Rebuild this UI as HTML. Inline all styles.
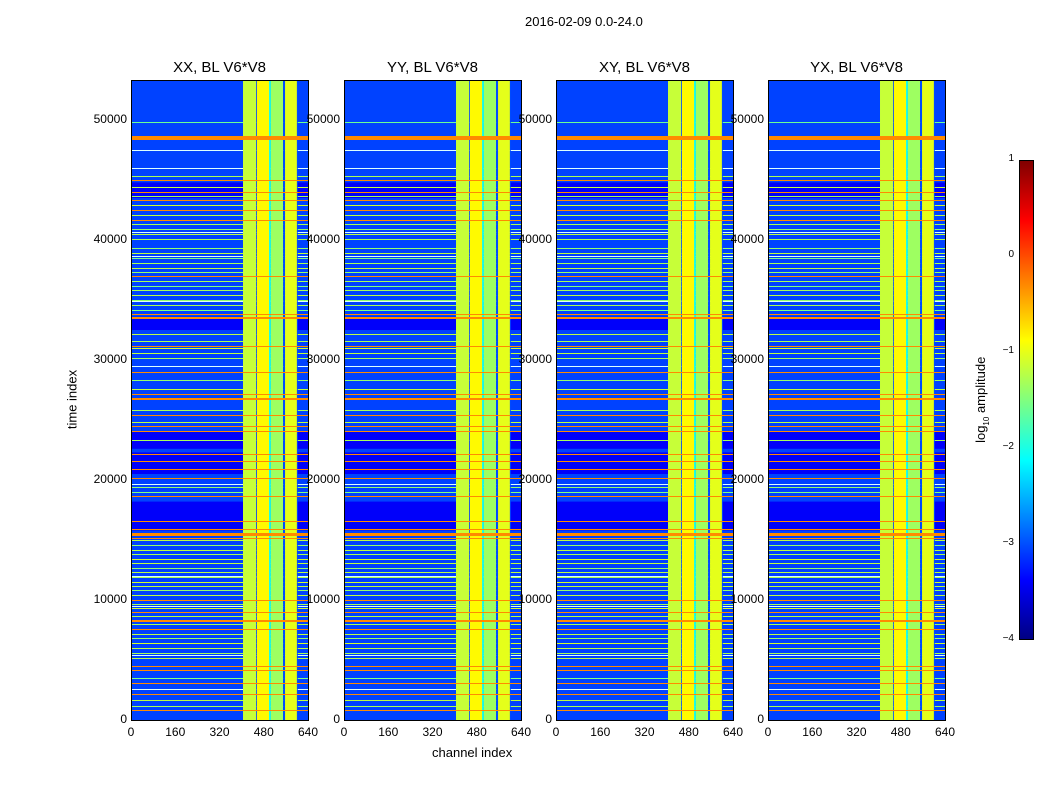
<!DOCTYPE html>
<html><head><meta charset="utf-8">
<style>
body{margin:0;background:#fff;width:1050px;height:800px;overflow:hidden;font-family:"Liberation Sans",sans-serif;}
#root{position:relative;width:1050px;height:800px;}
.t{position:absolute;white-space:nowrap;color:#000;}
canvas{position:absolute;image-rendering:pixelated;}
.frame{position:absolute;border:1px solid #000;box-sizing:border-box;}
</style></head>
<body><div id="root">
<div class="t" style="left:525px;top:14px;font-size:13px;">2016-02-09 0.0-24.0</div>
<div class="t" style="left:40px;top:392px;font-size:13px;transform:rotate(-90deg);width:64px;text-align:center;">time index</div>
<div class="t" style="left:432px;top:745px;font-size:13px;">channel index</div>
<div class="t" style="left:932px;top:391px;font-size:13px;transform:rotate(-90deg);width:100px;text-align:center;">log<sub style="font-size:8px">10</sub> amplitude</div>
</div>
<script>
const panelTitles=["XX, BL V6*V8","YY, BL V6*V8","XY, BL V6*V8","YX, BL V6*V8"];
const panelLefts=[131,344,556,768];
const xTicks=[0,160,320,480,640];
const yTicks=[0,10000,20000,30000,40000,50000];
const cbTicks=[1,0,-1,-2,-3,-4];
const background=-3.05;
const bandStart=[405,455,506,557];
const bandEnd=[452,499,550,600];
const bandValue=[-1.15,-0.85,-1.35,-1.0];
const darkT0=[15800,20500,22600,32500,43500];
const darkT1=[18200,22300,24000,33600,44800];
const orangeT=[800,2200,3100,4200,4500,7600,8300,9000,10000,15200,15600,15900,16600,18700,20200,20900,21600,22200,24100,24500,25400,26800,27200,29000,31200,33600,33800,37000,41700,42500,43300,44000,45000,48500,48700];
const orangeW=[1,1,1,1,1,1,2,1,1,1,3,1,1,1,1,1,1,1,1,1,1,2,1,1,1,2,1,1,1,1,1,1,1,2,2];
const greenT=[1200,1700,3500,5200,5600,6000,6400,6800,7200,8000,8700,9300,9700,10400,10800,11200,11500,11900,12300,12700,13100,13400,13800,14200,14600,15000,19000,19400,23300,24800,25800,27600,28300,30200,30600,31000,31600,32200,34200,34600,35000,35400,35800,36200,36600,37300,37700,38100,38500,38900,39300,40100,40500,40900,41300,42100,42900,43700,44400,45300,49800];
const greenV=[-1.3,-1.2,-1.5,-1.2,-1.3,-1.2,-1.1,-1.4,-1.2,-1.3,-1.2,-1.1,-1.3,-1.2,-1.4,-1.2,-1.1,-1.3,-1.2,-1.4,-1.2,-1.1,-1.3,-1.2,-1.4,-1.2,-1.5,-1.4,-1.3,-1.2,-1.3,-1.2,-1.4,-1.3,-1.2,-1.1,-1.3,-1.2,-1.5,-1.3,-1.4,-1.2,-1.3,-1.5,-1.3,-1.4,-1.2,-1.3,-1.5,-1.2,-1.4,-1.3,-1.2,-1.4,-1.3,-1.2,-1.1,-1.3,-1.2,-1.3,-1.6];
const whiteT=[2600,5400,9500,12000,19700,29500,34900,38700,40700,46000,47500];

const root=document.getElementById('root');
const PT=80,PH=640,PW=177,TMAX=53333,CMAX=640;
function jet(v){
  let x=(v+4)/5; x=Math.max(0,Math.min(1,x));
  const f=(a)=>Math.max(0,Math.min(1,1.5-Math.abs(4*x-a)));
  return `rgb(${Math.round(f(3)*255)},${Math.round(f(2)*255)},${Math.round(f(1)*255)})`;
}
const xs=c=>c/CMAX*PW, ys=t=>PH-t/TMAX*PH;
function label(txt,l,t,size,name,align){const d=document.createElement('div');d.className='t';d.textContent=txt;d.style.fontSize=size+'px';d.style.top=t+'px';
 if(align==='right'){d.style.right=(1050-l)+'px';}else if(align==='center'){d.style.left=(l-50)+'px';d.style.width='100px';d.style.textAlign='center';}else d.style.left=l+'px';
 
 
 root.appendChild(d);return d;}
panelLefts.forEach((L,pi)=>{
  const cv=document.createElement('canvas');cv.width=PW;cv.height=PH;cv.style.left=L+'px';cv.style.top=PT+'px';
  
  
  root.appendChild(cv);
  const g=cv.getContext('2d');
  g.fillStyle=jet(background);g.fillRect(0,0,PW,PH);
  darkT0.forEach((t0,i)=>{g.fillStyle=jet(-3.4);g.fillRect(0,ys(darkT1[i]),PW,ys(t0)-ys(darkT1[i]));});
  greenT.forEach((t,i)=>{g.fillStyle=jet(greenV[i]);g.fillRect(0,Math.round(ys(t)),PW,1);});
  whiteT.forEach(t=>{g.fillStyle='#dff';g.fillRect(0,Math.round(ys(t)),PW,1);});
  bandStart.forEach((c0,i)=>{g.fillStyle=jet(bandValue[i]);g.fillRect(xs(c0),0,xs(bandEnd[i])-xs(c0),PH);
    g.fillStyle=jet(i==1?-2.0:-3.0);g.fillRect(xs(bandEnd[i]),0,xs(i<3?bandStart[i+1]:bandEnd[i]+3)-xs(bandEnd[i]),PH);});
  orangeT.forEach((t,i)=>{g.fillStyle=jet(-0.3);g.fillRect(0,Math.round(ys(t)),PW,orangeW[i]);});
  const fr=document.createElement('div');fr.className='frame';fr.style.cssText=`left:${L}px;top:${PT}px;width:${PW+1}px;height:${PH+1}px;`;
  
  
  root.appendChild(fr);
  label(panelTitles[pi],L+PW/2,59,15,'panel-title-'+(pi+1),'center');
  xTicks.forEach(v=>{label(String(v),L+xs(v),725,12,'x-tick-label','center');});
  yTicks.forEach(v=>{label(String(v),L-4,PT+ys(v)-8,12,'y-tick-label','right');});
});
const cb=document.createElement('canvas');cb.width=15;cb.height=480;cb.style.left='1019px';cb.style.top='160px';


root.appendChild(cb);
const cg=cb.getContext('2d');
for(let i=0;i<480;i++){cg.fillStyle=jet(1-i/480*5);cg.fillRect(0,i,15,1);}
cg.strokeStyle='#000';cg.strokeRect(0.5,0.5,14,479);
cbTicks.forEach(v=>{label(v<0?'\u2212'+(-v):String(v),1014,160+(1-v)/5*480-7,10,'colorbar-tick-label','right');});
</script>
</body></html>
